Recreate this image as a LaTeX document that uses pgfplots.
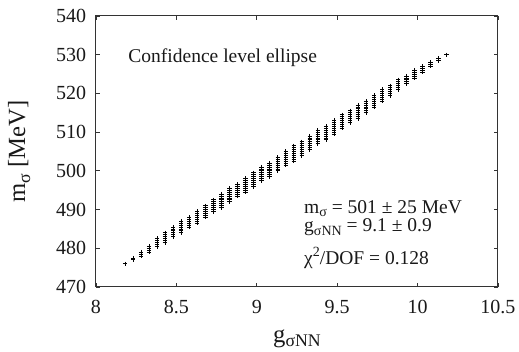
\documentclass[border=0pt]{standalone}
\usepackage{fontspec}
\setmainfont{Liberation Serif}
\newfontfamily\tickfont{Liberation Serif}
\usepackage{pgfplots}
\pgfplotsset{compat=1.18}
\newcommand\sub[1]{\raisebox{-0.42ex}{\fontsize{0.72em}{1em}\selectfont #1}}
\newcommand\sups[1]{\raisebox{0.85ex}{\fontsize{0.72em}{1em}\selectfont #1}}
\newcommand\tl[1]{\mbox{\tickfont\fontsize{12}{14}\selectfont #1}}
\begin{document}
\begin{tikzpicture}
\begin{axis}[
  scale only axis, width=241.2pt, height=162.6pt,
  xmin=8, xmax=10.5, ymin=470, ymax=540,
  xtick={8,8.5,9,9.5,10,10.5}, ytick={470,480,490,500,510,520,530,540},
  xticklabels={\tl{8},\tl{8.5},\tl{9},\tl{9.5},\tl{10},\tl{10.5}},
  yticklabels={\tl{470},\tl{480},\tl{490},\tl{500},\tl{510},\tl{520},\tl{530},\tl{540}},
  tick align=inside, major tick length=2.2pt,
  xtick pos=both, ytick pos=both,
  axis line style={line width=0.6pt, draw=black!80},
  every tick/.style={line width=0.5pt, black!80},
  ticklabel style={font=\tickfont\fontsize{12}{14}\selectfont, text=black!90},
  xticklabel style={yshift=-4.6pt},
  yticklabel style={xshift=-2.4pt},
  xlabel={g\sub{σNN}}, ylabel={m\sub{σ} [MeV]},
  label style={font=\fontsize{14.8}{17}\selectfont, text=black!90},
  xlabel style={at={(axis description cs:0.5,-0.203)}, anchor=base},
  ylabel style={at={(axis description cs:-0.176,0.5)}, anchor=base},
  clip=false,
]
\addplot[only marks, mark=+, mark size=1.3pt, mark options={line width=0.5pt}, black] coordinates {
(8.18,476)
(8.23,477) (8.23,477.5)
(8.28,478) (8.28,478.5) (8.28,479)
(8.33,479) (8.33,479.5) (8.33,480) (8.33,480.5)
(8.38,480.5) (8.38,481) (8.38,481.5) (8.38,482) (8.38,482.5)
(8.43,481.5) (8.43,482) (8.43,482.5) (8.43,483) (8.43,483.5) (8.43,484)
(8.48,483) (8.48,483.5) (8.48,484) (8.48,484.5) (8.48,485) (8.48,485.5)
(8.53,484) (8.53,484.5) (8.53,485) (8.53,485.5) (8.53,486) (8.53,486.5) (8.53,487)
(8.58,485.5) (8.58,486) (8.58,486.5) (8.58,487) (8.58,487.5) (8.58,488)
(8.63,486.5) (8.63,487) (8.63,487.5) (8.63,488) (8.63,488.5) (8.63,489) (8.63,489.5)
(8.68,488) (8.68,488.5) (8.68,489) (8.68,489.5) (8.68,490) (8.68,490.5) (8.68,491)
(8.73,489.5) (8.73,490) (8.73,490.5) (8.73,491) (8.73,491.5) (8.73,492) (8.73,492.5)
(8.78,490.5) (8.78,491) (8.78,491.5) (8.78,492) (8.78,492.5) (8.78,493) (8.78,493.5) (8.78,494)
(8.83,492) (8.83,492.5) (8.83,493) (8.83,493.5) (8.83,494) (8.83,494.5) (8.83,495) (8.83,495.5)
(8.88,493.5) (8.88,494) (8.88,494.5) (8.88,495) (8.88,495.5) (8.88,496) (8.88,496.5)
(8.93,494.5) (8.93,495) (8.93,495.5) (8.93,496) (8.93,496.5) (8.93,497) (8.93,497.5) (8.93,498)
(8.98,496) (8.98,496.5) (8.98,497) (8.98,497.5) (8.98,498) (8.98,498.5) (8.98,499) (8.98,499.5)
(9.03,497.5) (9.03,498) (9.03,498.5) (9.03,499) (9.03,499.5) (9.03,500) (9.03,500.5) (9.03,501)
(9.08,498.5) (9.08,499) (9.08,499.5) (9.08,500) (9.08,500.5) (9.08,501) (9.08,501.5) (9.08,502)
(9.13,500) (9.13,500.5) (9.13,501) (9.13,501.5) (9.13,502) (9.13,502.5) (9.13,503) (9.13,503.5)
(9.18,501.5) (9.18,502) (9.18,502.5) (9.18,503) (9.18,503.5) (9.18,504) (9.18,504.5) (9.18,505)
(9.23,502.5) (9.23,503) (9.23,503.5) (9.23,504) (9.23,504.5) (9.23,505) (9.23,505.5) (9.23,506) (9.23,506.5)
(9.28,504) (9.28,504.5) (9.28,505) (9.28,505.5) (9.28,506) (9.28,506.5) (9.28,507) (9.28,507.5)
(9.33,505.5) (9.33,506) (9.33,506.5) (9.33,507) (9.33,507.5) (9.33,508) (9.33,508.5) (9.33,509)
(9.38,507) (9.38,507.5) (9.38,508) (9.38,508.5) (9.38,509) (9.38,509.5) (9.38,510) (9.38,510.5)
(9.43,508) (9.43,508.5) (9.43,509) (9.43,509.5) (9.43,510) (9.43,510.5) (9.43,511) (9.43,511.5)
(9.48,509.5) (9.48,510) (9.48,510.5) (9.48,511) (9.48,511.5) (9.48,512) (9.48,512.5) (9.48,513)
(9.53,511) (9.53,511.5) (9.53,512) (9.53,512.5) (9.53,513) (9.53,513.5) (9.53,514) (9.53,514.5)
(9.58,512.5) (9.58,513) (9.58,513.5) (9.58,514) (9.58,514.5) (9.58,515) (9.58,515.5)
(9.63,513.5) (9.63,514) (9.63,514.5) (9.63,515) (9.63,515.5) (9.63,516) (9.63,516.5) (9.63,517)
(9.68,515) (9.68,515.5) (9.68,516) (9.68,516.5) (9.68,517) (9.68,517.5) (9.68,518)
(9.73,516.5) (9.73,517) (9.73,517.5) (9.73,518) (9.73,518.5) (9.73,519) (9.73,519.5)
(9.78,518) (9.78,518.5) (9.78,519) (9.78,519.5) (9.78,520) (9.78,520.5) (9.78,521)
(9.83,519.5) (9.83,520) (9.83,520.5) (9.83,521) (9.83,521.5) (9.83,522)
(9.88,521) (9.88,521.5) (9.88,522) (9.88,522.5) (9.88,523) (9.88,523.5)
(9.93,522.5) (9.93,523) (9.93,523.5) (9.93,524) (9.93,524.5)
(9.98,524) (9.98,524.5) (9.98,525) (9.98,525.5) (9.98,526)
(10.03,525.5) (10.03,526) (10.03,526.5) (10.03,527)
(10.08,527) (10.08,527.5) (10.08,528)
(10.13,528.5) (10.13,529)
(10.18,530)
};
\node[anchor=base west, inner sep=0pt, font=\fontsize{11.7}{14}\selectfont, text=black!90] at (axis cs:8.2,528.1) {Confidence level ellipse};
\node[anchor=base west, inner sep=0pt, font=\fontsize{11.7}{14}\selectfont, text=black!90] at (axis cs:9.293,489.1) {m\sub{σ} = 501 ± 25 MeV};
\node[anchor=base west, inner sep=0pt, font=\fontsize{11.7}{14}\selectfont, text=black!90] at (axis cs:9.293,484.4) {g\sub{σNN} = 9.1 ± 0.9};
\node[anchor=base west, inner sep=0pt, font=\fontsize{11.7}{14}\selectfont, text=black!90] at (axis cs:9.293,475.9) {χ\sups{2}/DOF = 0.128};
\end{axis}
\pgfresetboundingbox
\path[use as bounding box] (-57.6pt,-39pt) rectangle (253.8pt,172.2pt);
\end{tikzpicture}
\end{document}
